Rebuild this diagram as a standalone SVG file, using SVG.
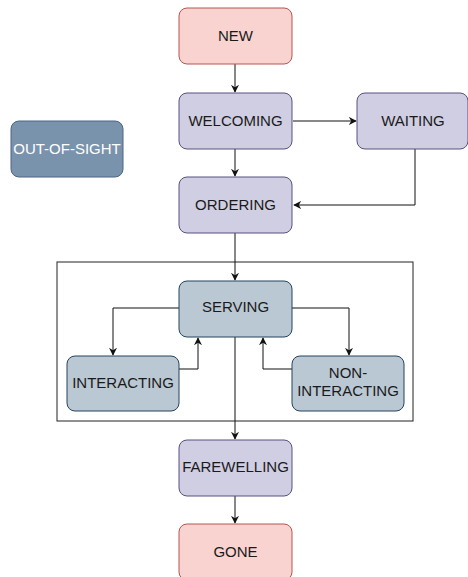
<svg xmlns="http://www.w3.org/2000/svg" width="468" height="577" viewBox="0 0 468 577">
<defs>
<style>
.n rect{stroke-width:1}
.red rect{fill:#f9d3cf;stroke:#b85450}
.pur rect{fill:#d0cee2;stroke:#56517e}
.blu rect{fill:#bac8d3;stroke:#23445d}
.dark rect{fill:#7a93ad;stroke:#4d6580}
text{font-family:"Liberation Sans",Arial,sans-serif;font-size:15px;text-anchor:middle;fill:#1a1a1a}
.dark text{fill:#fff}
.c path{fill:none;stroke:#111;stroke-width:1}
</style>
<marker id="a" viewBox="0 0 10 10" refX="9" refY="5" markerWidth="8" markerHeight="8" markerUnits="userSpaceOnUse" orient="auto">
<path d="M0,0 L10,5 L0,10 L3,5 Z" fill="#111"/>
</marker>
</defs>
<rect x="57" y="262" width="356" height="159" fill="none" stroke="#222" stroke-width="1"/>
<g class="c">
<path d="M235,64 V92" marker-end="url(#a)"/>
<path d="M293,121 H356" marker-end="url(#a)"/>
<path d="M235,149 V176" marker-end="url(#a)"/>
<path d="M415,149 V205 H294" marker-end="url(#a)"/>
<path d="M235,233 V280" marker-end="url(#a)"/>
<path d="M179,308 H113 V355" marker-end="url(#a)"/>
<path d="M179,369 H198 V338" marker-end="url(#a)"/>
<path d="M292,308 H349 V355" marker-end="url(#a)"/>
<path d="M292,369 H263 V338" marker-end="url(#a)"/>
<path d="M235,337 V439" marker-end="url(#a)"/>
<path d="M235,496 V523" marker-end="url(#a)"/>
</g>
<g id="new" class="n red"><rect x="179" y="8" width="113" height="56" rx="8"/><text x="235.5" y="41">NEW</text></g>
<g id="welcoming" class="n pur"><rect x="179" y="93" width="113" height="56" rx="8"/><text x="235.5" y="126">WELCOMING</text></g>
<g id="waiting" class="n pur"><rect x="357" y="93" width="111" height="56" rx="8"/><text x="413" y="126">WAITING</text></g>
<g id="out-of-sight" class="n dark"><rect x="11" y="121" width="112" height="56" rx="8"/><text x="67" y="154">OUT-OF-SIGHT</text></g>
<g id="ordering" class="n pur"><rect x="179" y="177" width="113" height="56" rx="8"/><text x="235.5" y="210">ORDERING</text></g>
<g id="serving" class="n blu"><rect x="179" y="281" width="113" height="56" rx="8"/><text x="235.5" y="312">SERVING</text></g>
<g id="interacting" class="n blu"><rect x="67" y="356" width="112" height="55" rx="8"/><text x="123" y="388">INTERACTING</text></g>
<g id="non-interacting" class="n blu"><rect x="292" y="356" width="112" height="55" rx="8"/><text x="348" y="378">NON-</text><text x="348" y="396">INTERACTING</text></g>
<g id="farewelling" class="n pur"><rect x="179" y="440" width="113" height="56" rx="8"/><text x="235.5" y="472">FAREWELLING</text></g>
<g id="gone" class="n red"><rect x="179" y="524" width="113" height="56" rx="8"/><text x="235.5" y="557">GONE</text></g>
</svg>
